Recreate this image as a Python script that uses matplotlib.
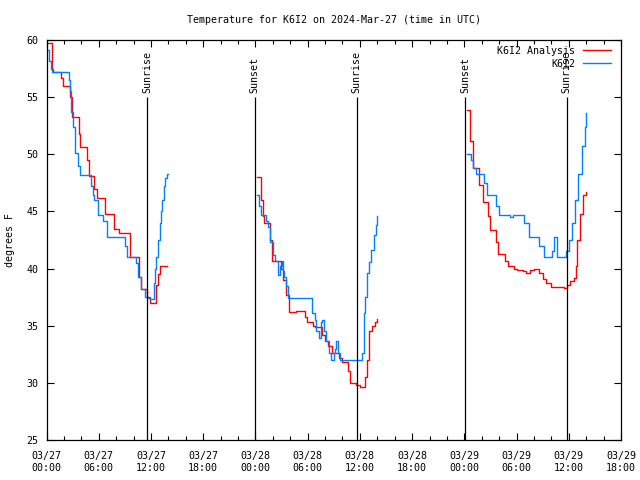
"""
Temperatura K6I2 (estación vs análisis), 27-29 marzo 2024, estilo gnuplot
"""

import numpy as np
import matplotlib
matplotlib.use("Agg")
import matplotlib.pyplot as plt
from matplotlib.ticker import FixedLocator, MultipleLocator

# horas desde 2024-03-27 00:00 UTC, una lista por noche
analysis_hours = [
    [0.15, 0.6, 0.75, 1.7, 1.9, 2.75, 2.9, 3.7, 3.9, 4.6, 4.9, 5.5, 5.8, 6.7,
     7.8, 8.3, 9.6, 10.6, 10.9, 11.5, 11.9, 12.6, 12.8, 13.0, 13.9],
    [24.2, 24.6, 24.85, 25.0, 25.7, 25.95, 26.9, 27.2, 27.5, 27.9, 28.7, 29.7,
     29.9, 30.6, 30.9, 31.6, 32.0, 32.3, 32.8, 33.6, 33.9, 34.6, 34.9, 35.6,
     36.0, 36.6, 36.8, 37.0, 37.4, 37.7, 38.0],
    [48.35, 48.6, 49.0, 49.7, 50.1, 50.7, 50.95, 51.6, 51.9, 52.7, 53.0, 53.7,
     54.0, 54.7, 55.1, 55.6, 56.0, 56.6, 57.0, 57.4, 58.0, 59.5, 59.8, 60.1,
     60.6, 60.8, 61.0, 61.3, 61.6, 62.0],
]
analysis_temp = [
    [59.7, 57.5, 57.2, 56.7, 56.0, 55.0, 53.3, 51.8, 50.6, 49.5, 48.1, 47.0,
     46.2, 44.8, 43.5, 43.1, 41.0, 39.3, 38.2, 37.5, 37.0, 38.6, 39.5, 40.2,
     40.2],
    [48.0, 46.0, 44.6, 44.0, 42.5, 40.7, 40.0, 39.0, 37.7, 36.2, 36.3, 35.8,
     35.3, 35.0, 34.9, 34.2, 33.7, 33.2, 32.6, 32.2, 31.8, 31.0, 30.0, 29.8,
     29.6, 30.5, 32.0, 34.5, 35.0, 35.3, 35.6],
    [53.9, 51.2, 48.8, 47.3, 45.8, 44.6, 43.4, 42.3, 41.3, 40.7, 40.2, 40.0,
     39.9, 39.8, 39.6, 39.9, 40.0, 39.6, 39.1, 38.7, 38.4, 38.3, 38.6, 38.9,
     39.2, 40.2, 42.5, 44.8, 46.4, 46.7],
]

station_hours = [
    [0.15, 0.3, 0.5, 0.6, 2.6, 2.65, 2.8, 3.0, 3.3, 3.6, 3.9, 5.1, 5.3, 5.5,
     5.9, 6.5, 7.0, 9.0, 9.2, 10.3, 10.5, 10.9, 11.3, 11.5, 11.9, 12.3, 12.5,
     12.6, 12.8, 13.0, 13.15, 13.3, 13.5, 13.6, 13.8, 14.0],
    [24.2, 24.4, 24.6, 25.2, 25.4, 25.7, 26.0, 26.2, 26.6, 26.8, 27.0, 27.2,
     27.3, 27.5, 27.8, 30.3, 30.5, 30.8, 31.0, 31.3, 31.5, 31.6, 31.9, 32.1,
     32.4, 32.7, 33.0, 33.1, 33.3, 33.5, 33.7, 36.25, 36.45, 36.6, 36.8, 37.0,
     37.3, 37.6, 37.8, 38.0],
    [48.3, 48.8, 49.0, 49.3, 50.3, 50.65, 51.6, 51.95, 53.2, 53.6, 54.9, 55.4,
     56.6, 57.2, 58.1, 58.3, 58.6, 58.7, 59.7, 60.0, 60.4, 60.7, 61.1, 61.5,
     61.9, 62.0],
]
station_temp = [
    [59.1, 58.2, 57.5, 57.2, 56.5, 55.5, 53.7, 52.4, 50.1, 49.0, 48.2, 47.2,
     46.4, 46.0, 44.7, 44.2, 42.8, 42.0, 41.0, 40.5, 39.3, 38.2, 37.5, 37.4,
     37.3, 38.7, 40.0, 41.0, 42.5, 44.0, 45.0, 46.0, 47.2, 47.9, 48.3, 48.3],
    [46.4, 45.5, 44.7, 44.2, 43.6, 42.3, 41.2, 40.7, 39.4, 40.2, 40.7, 39.8,
     39.3, 38.5, 37.4, 37.4, 36.1, 35.5, 34.5, 33.9, 35.3, 35.5, 34.5, 33.7,
     32.6, 32.0, 32.6, 33.0, 33.7, 32.6, 32.0, 32.6, 36.1, 37.5, 39.6, 40.6,
     41.6, 42.9, 43.8, 44.6],
    [50.0, 49.5, 48.8, 48.3, 47.5, 46.4, 45.5, 44.7, 44.5, 44.7, 44.0, 42.8,
     42.0, 41.0, 41.5, 42.8, 41.8, 41.0, 41.5, 42.5, 44.0, 46.0, 48.3, 50.7,
     52.4, 53.6],
]

event_labels = ["Sunrise", "Sunset", "Sunrise", "Sunset", "Sunrise"]
event_hours = [11.6, 23.93, 35.65, 48.1, 59.75]

tick_hours = [0, 6, 12, 18, 24, 30, 36, 42, 48, 54, 60, 66]
tick_labels = ["03/27\n00:00", "03/27\n06:00", "03/27\n12:00", "03/27\n18:00",
               "03/28\n00:00", "03/28\n06:00", "03/28\n12:00", "03/28\n18:00",
               "03/29\n00:00", "03/29\n06:00", "03/29\n12:00", "03/29\n18:00"]

RED = "#ff0000"
BLUE = "#0080ff"
FONT = "DejaVu Sans Mono"
FS = 7.2

plt.rcParams["font.family"] = FONT
plt.rcParams["font.size"] = FS

fig = plt.figure(figsize=(6.4, 4.8), dpi=100)
ax = fig.add_axes([46.5 / 640, 40 / 480, 574.5 / 640, 400 / 480])

for i, (h, t) in enumerate(zip(analysis_hours, analysis_temp)):
    ax.plot(h, t, color=RED, lw=1.0, drawstyle="steps-post",
            label="K6I2 Analysis" if i == 0 else None)
for i, (h, t) in enumerate(zip(station_hours, station_temp)):
    ax.plot(h, t, color=BLUE, lw=1.0, drawstyle="steps-post",
            label="K6I2" if i == 0 else None)

# amanecer / atardecer
ax.vlines(event_hours, 25, 55.0, color="black", lw=0.9)
for h, lab in zip(event_hours, event_labels):
    ax.text(h, 55.35, lab, rotation=90, ha="center", va="bottom", fontsize=FS)

ax.set_xlim(0, 66)
ax.set_ylim(25, 60)
ax.xaxis.set_major_locator(FixedLocator(tick_hours))
ax.set_xticklabels(tick_labels)
ax.xaxis.set_minor_locator(MultipleLocator(2))
ax.yaxis.set_major_locator(MultipleLocator(5))

ax.tick_params(axis="x", which="major", direction="in", length=5, width=0.8,
               top=True, labelsize=FS, pad=8)
ax.tick_params(axis="y", which="major", direction="in", length=5, width=0.8,
               right=True, labelsize=FS, pad=6)
ax.tick_params(axis="x", which="minor", direction="in", length=3, width=0.8,
               top=True)
for spine in ax.spines.values():
    spine.set_linewidth(0.9)

ax.set_ylabel("degrees F", fontsize=FS)
ax.yaxis.set_label_coords(-0.055, 0.5)
ax.set_title("Temperature for K6I2 on 2024-Mar-27 (time in UTC)",
             fontsize=FS, pad=12)

ax.legend(loc="upper right", frameon=False, markerfirst=False, fontsize=FS,
          handlelength=2.8, handletextpad=0.8, labelspacing=0.3,
          borderaxespad=0.2, bbox_to_anchor=(0.993, 1.0))

fig.savefig("out.png", dpi=100)
